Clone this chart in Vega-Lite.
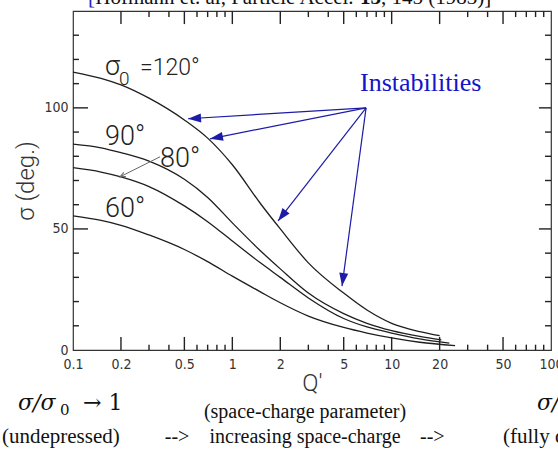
{
  "$schema": "https://vega.github.io/schema/vega-lite/v6.json",
  "width": 478,
  "height": 339,
  "autosize": "none",
  "padding": {"left": 73, "top": 11, "right": 7, "bottom": 99},
  "background": "white",
  "config": {
    "view": {"stroke": "#333", "strokeWidth": 1.2},
    "axis": {"grid": false, "domain": false, "ticks": false, "tickSize": 0, "labelColor": "#333", "labelFont": "Liberation Sans Narrow, DejaVu Sans Condensed, sans-serif", "labelFontSize": 14, "titleColor": "#333", "titleFontWeight": 300, "labelOverlap": false, "labelFlush": false}
  },
  "datasets": {
    "curves": [
      {"sigma0": 120, "Q": 0.1, "sigma": 114.8}, {"sigma0": 120, "Q": 0.15, "sigma": 112.2}, {"sigma0": 120, "Q": 0.2, "sigma": 109.5}, {"sigma0": 120, "Q": 0.3, "sigma": 104}, {"sigma0": 120, "Q": 0.5, "sigma": 95}, {"sigma0": 120, "Q": 0.7, "sigma": 87.5}, {"sigma0": 120, "Q": 1, "sigma": 76.5}, {"sigma0": 120, "Q": 1.5, "sigma": 60.5}, {"sigma0": 120, "Q": 2, "sigma": 50}, {"sigma0": 120, "Q": 3, "sigma": 36}, {"sigma0": 120, "Q": 5, "sigma": 23.5}, {"sigma0": 120, "Q": 7, "sigma": 16.5}, {"sigma0": 120, "Q": 10, "sigma": 11}, {"sigma0": 120, "Q": 15, "sigma": 7.6}, {"sigma0": 120, "Q": 20, "sigma": 5.9},
      {"sigma0": 90, "Q": 0.1, "sigma": 85}, {"sigma0": 90, "Q": 0.15, "sigma": 83.5}, {"sigma0": 90, "Q": 0.2, "sigma": 81.5}, {"sigma0": 90, "Q": 0.3, "sigma": 78}, {"sigma0": 90, "Q": 0.5, "sigma": 70.5}, {"sigma0": 90, "Q": 0.7, "sigma": 63}, {"sigma0": 90, "Q": 1, "sigma": 52.5}, {"sigma0": 90, "Q": 1.5, "sigma": 41}, {"sigma0": 90, "Q": 2, "sigma": 33.5}, {"sigma0": 90, "Q": 3, "sigma": 23.5}, {"sigma0": 90, "Q": 5, "sigma": 15}, {"sigma0": 90, "Q": 7, "sigma": 11}, {"sigma0": 90, "Q": 10, "sigma": 8}, {"sigma0": 90, "Q": 15, "sigma": 5.6}, {"sigma0": 90, "Q": 20.5, "sigma": 4.2},
      {"sigma0": 80, "Q": 0.1, "sigma": 75.3}, {"sigma0": 80, "Q": 0.15, "sigma": 73.5}, {"sigma0": 80, "Q": 0.2, "sigma": 71.5}, {"sigma0": 80, "Q": 0.3, "sigma": 67.5}, {"sigma0": 80, "Q": 0.5, "sigma": 59.5}, {"sigma0": 80, "Q": 0.7, "sigma": 53}, {"sigma0": 80, "Q": 1, "sigma": 45}, {"sigma0": 80, "Q": 1.5, "sigma": 36}, {"sigma0": 80, "Q": 2, "sigma": 30}, {"sigma0": 80, "Q": 3, "sigma": 21.5}, {"sigma0": 80, "Q": 5, "sigma": 13}, {"sigma0": 80, "Q": 7, "sigma": 9.5}, {"sigma0": 80, "Q": 10, "sigma": 7}, {"sigma0": 80, "Q": 15, "sigma": 4.6}, {"sigma0": 80, "Q": 23, "sigma": 2.8},
      {"sigma0": 60, "Q": 0.1, "sigma": 55.4}, {"sigma0": 60, "Q": 0.15, "sigma": 53.5}, {"sigma0": 60, "Q": 0.2, "sigma": 51.5}, {"sigma0": 60, "Q": 0.3, "sigma": 47.5}, {"sigma0": 60, "Q": 0.5, "sigma": 41.5}, {"sigma0": 60, "Q": 0.7, "sigma": 36.5}, {"sigma0": 60, "Q": 1, "sigma": 30.5}, {"sigma0": 60, "Q": 1.5, "sigma": 24}, {"sigma0": 60, "Q": 2, "sigma": 19.5}, {"sigma0": 60, "Q": 3, "sigma": 14}, {"sigma0": 60, "Q": 5, "sigma": 9.3}, {"sigma0": 60, "Q": 7, "sigma": 7}, {"sigma0": 60, "Q": 10, "sigma": 5}, {"sigma0": 60, "Q": 15, "sigma": 3.2}, {"sigma0": 60, "Q": 25, "sigma": 1.8}
    ],
    "tk": [
      {"id": 1, "Q": 0.2, "s": 0}, {"id": 1, "Q": 0.2, "s": 5.4}, {"id": 2, "Q": 0.5, "s": 0}, {"id": 2, "Q": 0.5, "s": 5.4},
      {"id": 3, "Q": 1, "s": 0}, {"id": 3, "Q": 1, "s": 5.4}, {"id": 4, "Q": 2, "s": 0}, {"id": 4, "Q": 2, "s": 5.4},
      {"id": 5, "Q": 5, "s": 0}, {"id": 5, "Q": 5, "s": 5.4}, {"id": 6, "Q": 10, "s": 0}, {"id": 6, "Q": 10, "s": 5.4},
      {"id": 7, "Q": 20, "s": 0}, {"id": 7, "Q": 20, "s": 5.4}, {"id": 8, "Q": 50, "s": 0}, {"id": 8, "Q": 50, "s": 5.4},
      {"id": 9, "Q": 0.2, "s": 140}, {"id": 9, "Q": 0.2, "s": 134.6}, {"id": 10, "Q": 0.5, "s": 140}, {"id": 10, "Q": 0.5, "s": 134.6},
      {"id": 11, "Q": 1, "s": 140}, {"id": 11, "Q": 1, "s": 134.6}, {"id": 12, "Q": 2, "s": 140}, {"id": 12, "Q": 2, "s": 134.6},
      {"id": 13, "Q": 5, "s": 140}, {"id": 13, "Q": 5, "s": 134.6}, {"id": 14, "Q": 10, "s": 140}, {"id": 14, "Q": 10, "s": 134.6},
      {"id": 15, "Q": 20, "s": 140}, {"id": 15, "Q": 20, "s": 134.6}, {"id": 16, "Q": 50, "s": 140}, {"id": 16, "Q": 50, "s": 134.6},
      {"id": 17, "Q": 0.3, "s": 0}, {"id": 17, "Q": 0.3, "s": 2.2}, {"id": 18, "Q": 0.4, "s": 0}, {"id": 18, "Q": 0.4, "s": 2.2},
      {"id": 19, "Q": 0.6, "s": 0}, {"id": 19, "Q": 0.6, "s": 2.2}, {"id": 20, "Q": 0.7, "s": 0}, {"id": 20, "Q": 0.7, "s": 2.2},
      {"id": 21, "Q": 0.8, "s": 0}, {"id": 21, "Q": 0.8, "s": 2.2}, {"id": 22, "Q": 0.9, "s": 0}, {"id": 22, "Q": 0.9, "s": 2.2},
      {"id": 23, "Q": 3, "s": 0}, {"id": 23, "Q": 3, "s": 2.2}, {"id": 24, "Q": 4, "s": 0}, {"id": 24, "Q": 4, "s": 2.2},
      {"id": 25, "Q": 6, "s": 0}, {"id": 25, "Q": 6, "s": 2.2}, {"id": 26, "Q": 7, "s": 0}, {"id": 26, "Q": 7, "s": 2.2},
      {"id": 27, "Q": 8, "s": 0}, {"id": 27, "Q": 8, "s": 2.2}, {"id": 28, "Q": 9, "s": 0}, {"id": 28, "Q": 9, "s": 2.2},
      {"id": 29, "Q": 30, "s": 0}, {"id": 29, "Q": 30, "s": 2.2}, {"id": 30, "Q": 40, "s": 0}, {"id": 30, "Q": 40, "s": 2.2},
      {"id": 31, "Q": 60, "s": 0}, {"id": 31, "Q": 60, "s": 2.2}, {"id": 32, "Q": 70, "s": 0}, {"id": 32, "Q": 70, "s": 2.2},
      {"id": 33, "Q": 80, "s": 0}, {"id": 33, "Q": 80, "s": 2.2}, {"id": 34, "Q": 90, "s": 0}, {"id": 34, "Q": 90, "s": 2.2},
      {"id": 35, "Q": 0.3, "s": 140}, {"id": 35, "Q": 0.3, "s": 137.5}, {"id": 36, "Q": 0.4, "s": 140}, {"id": 36, "Q": 0.4, "s": 137.5},
      {"id": 37, "Q": 0.6, "s": 140}, {"id": 37, "Q": 0.6, "s": 137.5}, {"id": 38, "Q": 0.7, "s": 140}, {"id": 38, "Q": 0.7, "s": 137.5},
      {"id": 39, "Q": 0.8, "s": 140}, {"id": 39, "Q": 0.8, "s": 137.5}, {"id": 40, "Q": 0.9, "s": 140}, {"id": 40, "Q": 0.9, "s": 137.5},
      {"id": 41, "Q": 3, "s": 140}, {"id": 41, "Q": 3, "s": 137.5}, {"id": 42, "Q": 4, "s": 140}, {"id": 42, "Q": 4, "s": 137.5},
      {"id": 43, "Q": 6, "s": 140}, {"id": 43, "Q": 6, "s": 137.5}, {"id": 44, "Q": 7, "s": 140}, {"id": 44, "Q": 7, "s": 137.5},
      {"id": 45, "Q": 8, "s": 140}, {"id": 45, "Q": 8, "s": 137.5}, {"id": 46, "Q": 9, "s": 140}, {"id": 46, "Q": 9, "s": 137.5},
      {"id": 47, "Q": 30, "s": 140}, {"id": 47, "Q": 30, "s": 137.5}, {"id": 48, "Q": 40, "s": 140}, {"id": 48, "Q": 40, "s": 137.5},
      {"id": 49, "Q": 60, "s": 140}, {"id": 49, "Q": 60, "s": 137.5}, {"id": 50, "Q": 70, "s": 140}, {"id": 50, "Q": 70, "s": 137.5},
      {"id": 51, "Q": 80, "s": 140}, {"id": 51, "Q": 80, "s": 137.5}, {"id": 52, "Q": 90, "s": 140}, {"id": 52, "Q": 90, "s": 137.5},
      {"id": 53, "Q": 0.1, "s": 50}, {"id": 53, "Q": 0.1242, "s": 50}, {"id": 54, "Q": 0.1, "s": 100}, {"id": 54, "Q": 0.1242, "s": 100},
      {"id": 55, "Q": 100, "s": 50}, {"id": 55, "Q": 84, "s": 50}, {"id": 56, "Q": 100, "s": 100}, {"id": 56, "Q": 84, "s": 100},
      {"id": 57, "Q": 0.1, "s": 10}, {"id": 57, "Q": 0.109, "s": 10}, {"id": 58, "Q": 0.1, "s": 20}, {"id": 58, "Q": 0.109, "s": 20},
      {"id": 59, "Q": 0.1, "s": 30}, {"id": 59, "Q": 0.109, "s": 30}, {"id": 60, "Q": 0.1, "s": 40}, {"id": 60, "Q": 0.109, "s": 40},
      {"id": 61, "Q": 0.1, "s": 60}, {"id": 61, "Q": 0.109, "s": 60}, {"id": 62, "Q": 0.1, "s": 70}, {"id": 62, "Q": 0.109, "s": 70},
      {"id": 63, "Q": 0.1, "s": 80}, {"id": 63, "Q": 0.109, "s": 80}, {"id": 64, "Q": 0.1, "s": 90}, {"id": 64, "Q": 0.109, "s": 90},
      {"id": 65, "Q": 0.1, "s": 110}, {"id": 65, "Q": 0.109, "s": 110}, {"id": 66, "Q": 0.1, "s": 120}, {"id": 66, "Q": 0.109, "s": 120},
      {"id": 67, "Q": 0.1, "s": 130}, {"id": 67, "Q": 0.109, "s": 130},
      {"id": 68, "Q": 100, "s": 10}, {"id": 68, "Q": 91.7, "s": 10}, {"id": 69, "Q": 100, "s": 20}, {"id": 69, "Q": 91.7, "s": 20},
      {"id": 70, "Q": 100, "s": 30}, {"id": 70, "Q": 91.7, "s": 30}, {"id": 71, "Q": 100, "s": 40}, {"id": 71, "Q": 91.7, "s": 40},
      {"id": 72, "Q": 100, "s": 60}, {"id": 72, "Q": 91.7, "s": 60}, {"id": 73, "Q": 100, "s": 70}, {"id": 73, "Q": 91.7, "s": 70},
      {"id": 74, "Q": 100, "s": 80}, {"id": 74, "Q": 91.7, "s": 80}, {"id": 75, "Q": 100, "s": 90}, {"id": 75, "Q": 91.7, "s": 90},
      {"id": 76, "Q": 100, "s": 110}, {"id": 76, "Q": 91.7, "s": 110}, {"id": 77, "Q": 100, "s": 120}, {"id": 77, "Q": 91.7, "s": 120},
      {"id": 78, "Q": 100, "s": 130}, {"id": 78, "Q": 91.7, "s": 130}
    ],
    "arrows": [
      {"Q1": 6.91, "s1": 100, "Q2": 0.527, "s2": 95.5},
      {"Q1": 6.91, "s1": 100, "Q2": 0.724, "s2": 87.2},
      {"Q1": 6.91, "s1": 100, "Q2": 1.936, "s2": 53.3},
      {"Q1": 6.91, "s1": 100, "Q2": 4.88, "s2": 26.4}
    ],
    "grayArrow": [
      {"Q1": 0.352, "s1": 79.8, "Q2": 0.197, "s2": 71.5}
    ],
    "texts": [
      {"g": "citeBlue", "t": "[", "Q": 0.1242, "s": 143},
      {"g": "cite", "t": "Hofmann et. al, Particle Accel.", "Q": 0.138, "s": 143},
      {"g": "citeBold", "t": "13", "Q": 6.33, "s": 143},
      {"g": "cite", "t": ", 145 (1983)]", "Q": 8.58, "s": 143},
      {"g": "lab", "t": "90°", "Q": 0.1588, "s": 84.7},
      {"g": "lab", "t": "80°", "Q": 0.3516, "s": 75.6},
      {"g": "lab", "t": "60°", "Q": 0.1588, "s": 55.0},
      {"g": "labSig", "t": "σ", "Q": 0.1588, "s": 113.6},
      {"g": "labSm", "t": "=120°", "Q": 0.2634, "s": 113.6},
      {"g": "labSub", "t": "0", "Q": 0.1945, "s": 109.5},
      {"g": "inst", "t": "Instabilities", "Q": 6.33, "s": 107},
      {"g": "serifC", "t": "(space-charge parameter)", "Q": 2.86, "s": -28.1},
      {"g": "serifL", "t": "(undepressed)", "Q": 0.0358, "s": -38.4},
      {"g": "serifC", "t": "-->", "Q": 0.45, "s": -38.4},
      {"g": "serifC", "t": "increasing space-charge", "Q": 2.86, "s": -38.4},
      {"g": "serifC", "t": "-->", "Q": 18.0, "s": -38.4},
      {"g": "serifL", "t": "(fully depressed)", "Q": 50.0, "s": -38.4},
      {"g": "mathIt", "t": "σ/σ", "Q": 0.0452, "s": -24.8},
      {"g": "mathSub", "t": "0", "Q": 0.0829, "s": -26.8},
      {"g": "math", "t": "→ 1", "Q": 0.1156, "s": -24.8},
      {"g": "mathIt", "t": "σ/σ", "Q": 81.8, "s": -24.8}
    ]
  },
  "layer": [
    {
      "data": {"name": "curves"},
      "mark": {"type": "line", "color": "#1e1e1e", "strokeWidth": 1.3, "interpolate": "monotone"},
      "encoding": {
        "x": {"field": "Q", "type": "quantitative",
          "scale": {"type": "log", "domain": [0.1, 100]},
          "axis": {"orient": "bottom", "title": "Q′", "titleFont": "Roboto", "titleFontSize": 24, "titlePadding": 0,
            "values": [0.1, 0.2, 0.5, 1, 2, 5, 10, 20, 50, 100],
            "labelExpr": "'' + datum.value", "labelPadding": 7}},
        "y": {"field": "sigma", "type": "quantitative",
          "scale": {"domain": [0, 140], "nice": false, "zero": false},
          "axis": {"orient": "left", "title": "σ (deg.)", "titleFont": "Roboto", "titleFontSize": 24, "titlePadding": 5,
            "values": [0, 50, 100], "labelPadding": 5}},
        "detail": {"field": "sigma0"}
      }
    },
    {
      "data": {"name": "tk"},
      "mark": {"type": "line", "color": "#222", "strokeWidth": 1.4},
      "encoding": {
        "x": {"field": "Q", "type": "quantitative"},
        "y": {"field": "s", "type": "quantitative"},
        "detail": {"field": "id"}
      }
    },
    {
      "data": {"name": "arrows"},
      "mark": {"type": "rule", "color": "#1c1ca6", "strokeWidth": 1.2},
      "encoding": {
        "x": {"field": "Q1", "type": "quantitative"},
        "y": {"field": "s1", "type": "quantitative"},
        "x2": {"field": "Q2"},
        "y2": {"field": "s2"}
      }
    },
    {
      "data": {"name": "arrows"},
      "transform": [{"calculate": "atan2(159.3*(log(datum.Q2)-log(datum.Q1))/LN10, 2.42*(datum.s2-datum.s1))*180/PI", "as": "ang"}],
      "mark": {"type": "point", "shape": "M0,0 L0.9,2.6 L-0.9,2.6 Z", "filled": true, "color": "#1c1ca6", "size": 100, "opacity": 1},
      "encoding": {
        "x": {"field": "Q2", "type": "quantitative"},
        "y": {"field": "s2", "type": "quantitative"},
        "angle": {"field": "ang", "type": "quantitative", "scale": null}
      }
    },
    {
      "data": {"name": "grayArrow"},
      "mark": {"type": "rule", "color": "#666", "strokeWidth": 1},
      "encoding": {
        "x": {"field": "Q1", "type": "quantitative"},
        "y": {"field": "s1", "type": "quantitative"},
        "x2": {"field": "Q2"},
        "y2": {"field": "s2"}
      }
    },
    {
      "data": {"name": "grayArrow"},
      "transform": [{"calculate": "atan2(159.3*(log(datum.Q2)-log(datum.Q1))/LN10, 2.42*(datum.s2-datum.s1))*180/PI", "as": "ang"}],
      "mark": {"type": "point", "shape": "M-0.9,2.2 L0,0 L0.9,2.2", "filled": false, "color": "#666", "strokeWidth": 1, "size": 25, "opacity": 1},
      "encoding": {
        "x": {"field": "Q2", "type": "quantitative"},
        "y": {"field": "s2", "type": "quantitative"},
        "angle": {"field": "ang", "type": "quantitative", "scale": null}
      }
    },
    {
      "data": {"name": "texts"},
      "transform": [{"filter": "datum.g == 'cite'"}],
      "mark": {"type": "text", "font": "Liberation Serif", "fontSize": 21, "align": "left", "baseline": "alphabetic", "color": "#111"},
      "encoding": {"x": {"field": "Q", "type": "quantitative"}, "y": {"field": "s", "type": "quantitative"}, "text": {"field": "t"}}
    },
    {
      "data": {"name": "texts"},
      "transform": [{"filter": "datum.g == 'citeBold'"}],
      "mark": {"type": "text", "font": "Liberation Serif", "fontSize": 21, "fontWeight": "bold", "align": "left", "baseline": "alphabetic", "color": "#111"},
      "encoding": {"x": {"field": "Q", "type": "quantitative"}, "y": {"field": "s", "type": "quantitative"}, "text": {"field": "t"}}
    },
    {
      "data": {"name": "texts"},
      "transform": [{"filter": "datum.g == 'citeBlue'"}],
      "mark": {"type": "text", "font": "Liberation Serif", "fontSize": 21, "align": "left", "baseline": "alphabetic", "color": "#2020c0"},
      "encoding": {"x": {"field": "Q", "type": "quantitative"}, "y": {"field": "s", "type": "quantitative"}, "text": {"field": "t"}}
    },
    {
      "data": {"name": "texts"},
      "transform": [{"filter": "datum.g == 'lab'"}],
      "mark": {"type": "text", "font": "Roboto", "fontWeight": 300, "fontSize": 27, "align": "left", "baseline": "alphabetic", "color": "#222"},
      "encoding": {"x": {"field": "Q", "type": "quantitative"}, "y": {"field": "s", "type": "quantitative"}, "text": {"field": "t"}}
    },
    {
      "data": {"name": "texts"},
      "transform": [{"filter": "datum.g == 'labSm'"}],
      "mark": {"type": "text", "font": "Roboto", "fontWeight": 300, "fontSize": 23, "align": "left", "baseline": "alphabetic", "color": "#222"},
      "encoding": {"x": {"field": "Q", "type": "quantitative"}, "y": {"field": "s", "type": "quantitative"}, "text": {"field": "t"}}
    },
    {
      "data": {"name": "texts"},
      "transform": [{"filter": "datum.g == 'labSig'"}],
      "mark": {"type": "text", "font": "Roboto", "fontWeight": 300, "fontSize": 27, "align": "left", "baseline": "alphabetic", "color": "#222"},
      "encoding": {"x": {"field": "Q", "type": "quantitative"}, "y": {"field": "s", "type": "quantitative"}, "text": {"field": "t"}}
    },
    {
      "data": {"name": "texts"},
      "transform": [{"filter": "datum.g == 'labSub'"}],
      "mark": {"type": "text", "font": "Roboto", "fontWeight": 300, "fontSize": 19, "align": "left", "baseline": "alphabetic", "color": "#222"},
      "encoding": {"x": {"field": "Q", "type": "quantitative"}, "y": {"field": "s", "type": "quantitative"}, "text": {"field": "t"}}
    },
    {
      "data": {"name": "texts"},
      "transform": [{"filter": "datum.g == 'inst'"}],
      "mark": {"type": "text", "font": "Liberation Serif", "fontSize": 26, "align": "left", "baseline": "alphabetic", "color": "#1414c8"},
      "encoding": {"x": {"field": "Q", "type": "quantitative"}, "y": {"field": "s", "type": "quantitative"}, "text": {"field": "t"}}
    },
    {
      "data": {"name": "texts"},
      "transform": [{"filter": "datum.g == 'serifC'"}],
      "mark": {"type": "text", "font": "Liberation Serif", "fontSize": 20, "align": "center", "baseline": "alphabetic", "color": "#111"},
      "encoding": {"x": {"field": "Q", "type": "quantitative"}, "y": {"field": "s", "type": "quantitative"}, "text": {"field": "t"}}
    },
    {
      "data": {"name": "texts"},
      "transform": [{"filter": "datum.g == 'serifL'"}],
      "mark": {"type": "text", "font": "Liberation Serif", "fontSize": 21, "align": "left", "baseline": "alphabetic", "color": "#111"},
      "encoding": {"x": {"field": "Q", "type": "quantitative"}, "y": {"field": "s", "type": "quantitative"}, "text": {"field": "t"}}
    },
    {
      "data": {"name": "texts"},
      "transform": [{"filter": "datum.g == 'mathIt'"}],
      "mark": {"type": "text", "font": "DejaVu Serif", "fontSize": 22, "fontStyle": "italic", "align": "left", "baseline": "alphabetic", "color": "#111"},
      "encoding": {"x": {"field": "Q", "type": "quantitative"}, "y": {"field": "s", "type": "quantitative"}, "text": {"field": "t"}}
    },
    {
      "data": {"name": "texts"},
      "transform": [{"filter": "datum.g == 'mathSub'"}],
      "mark": {"type": "text", "font": "DejaVu Serif", "fontSize": 15, "align": "left", "baseline": "alphabetic", "color": "#111"},
      "encoding": {"x": {"field": "Q", "type": "quantitative"}, "y": {"field": "s", "type": "quantitative"}, "text": {"field": "t"}}
    },
    {
      "data": {"name": "texts"},
      "transform": [{"filter": "datum.g == 'math'"}],
      "mark": {"type": "text", "font": "DejaVu Serif", "fontSize": 22, "align": "left", "baseline": "alphabetic", "color": "#111"},
      "encoding": {"x": {"field": "Q", "type": "quantitative"}, "y": {"field": "s", "type": "quantitative"}, "text": {"field": "t"}}
    }
  ]
}
